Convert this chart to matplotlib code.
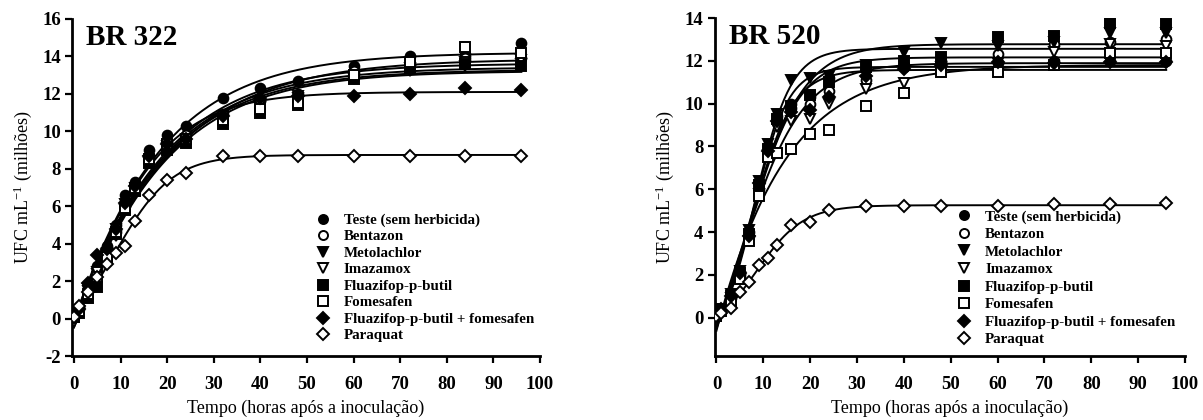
import numpy as np
import matplotlib
matplotlib.use('Agg')
import matplotlib.pyplot as plt

plt.rcParams['font.family'] = ['Liberation Serif', 'DejaVu Serif']
plt.rcParams['mathtext.fontset'] = 'custom'
plt.rcParams['mathtext.rm'] = 'Liberation Serif'
plt.rcParams['mathtext.it'] = 'Liberation Serif:italic'
plt.rcParams['axes.unicode_minus'] = False

# horas após a inoculação
tempo = [0, 1, 3, 5, 7, 9, 11, 13, 16, 20, 24, 32, 40, 48, 60, 72, 84, 96]

labels = ['Teste (sem herbicida)', 'Bentazon', 'Metolachlor', 'Imazamox',
          'Fluazifop-p-butil', 'Fomesafen', 'Fluazifop-p-butil + fomesafen',
          'Paraquat']

# BR 322 (UFC mL-1, milhões)
br322_teste = [0.1, 0.5, 1.8, 2.8, 3.9, 5.0, 6.6, 7.3, 9.0, 9.8, 10.3, 11.8, 12.3, 12.7, 13.5, 14.0, 14.1, 14.7]
br322_bentazon = [0.1, 0.6, 1.6, 2.6, 3.6, 4.6, 6.0, 7.0, 8.6, 9.4, 9.8, 10.9, 11.6, 12.0, 13.2, 13.6, 13.9, 13.9]
br322_metolachlor = [0.0, 0.3, 1.5, 2.4, 3.4, 4.4, 5.8, 6.8, 8.4, 9.2, 9.6, 10.7, 11.3, 11.8, 12.8, 13.2, 13.5, 13.6]
br322_imazamox = [-0.2, 0.4, 1.6, 2.5, 3.5, 4.8, 6.1, 7.0, 8.3, 9.1, 9.5, 10.8, 11.4, 11.9, 12.9, 13.4, 13.7, 13.8]
br322_fluazifop = [0.1, 0.3, 1.1, 1.7, 3.2, 4.5, 5.8, 6.8, 8.3, 9.0, 9.4, 10.4, 11.0, 11.4, 12.8, 13.4, 13.6, 13.5]
br322_fomesafen = [0.1, 0.4, 1.3, 2.2, 3.3, 4.6, 5.9, 7.0, 8.5, 9.3, 9.6, 10.6, 11.2, 11.5, 13.0, 13.7, 14.5, 14.2]
br322_mistura = [0.1, 0.5, 1.9, 3.4, 3.7, 4.8, 6.2, 7.1, 8.7, 9.3, 9.6, 10.8, 11.8, 11.9, 11.9, 12.0, 12.3, 12.2]
br322_paraquat = [0.1, 0.7, 1.4, 2.2, 2.9, 3.5, 3.9, 5.2, 6.6, 7.4, 7.8, 8.7, 8.7, 8.7, 8.7, 8.7, 8.7, 8.7]

# BR 520
br520_teste = [0.1, 0.3, 1.0, 2.0, 4.0, 6.3, 8.0, 9.4, 10.0, 10.3, 11.2, 11.6, 11.8, 11.9, 11.9, 12.0, 12.0, 12.0]
br520_bentazon = [0.1, 0.3, 0.9, 2.1, 3.8, 6.0, 7.8, 9.1, 9.8, 10.0, 10.6, 11.1, 11.7, 12.0, 12.3, 12.8, 12.9, 13.0]
br520_metolachlor = [0.1, 0.4, 1.1, 2.2, 4.1, 6.4, 8.1, 9.5, 11.1, 11.2, 11.3, 11.8, 12.4, 12.85, 12.7, 12.9, 13.3, 13.3]
br520_imazamox = [0.1, 0.3, 0.9, 1.9, 3.6, 5.8, 7.6, 8.9, 9.2, 9.3, 10.0, 10.7, 10.95, 11.7, 11.9, 12.4, 12.8, 12.7]
br520_fluazifop = [0.1, 0.4, 1.0, 2.1, 3.9, 6.2, 7.9, 9.3, 9.9, 10.4, 11.0, 11.7, 12.0, 12.2, 13.1, 13.15, 13.75, 13.7]
br520_fomesafen = [0.1, 0.3, 0.8, 1.8, 3.6, 5.7, 7.5, 7.7, 7.9, 8.6, 8.75, 9.9, 10.5, 11.5, 11.5, 11.8, 12.35, 12.35]
br520_mistura = [0.1, 0.4, 1.0, 2.1, 3.8, 6.3, 7.8, 9.2, 9.6, 9.7, 10.3, 11.3, 11.6, 11.8, 11.95, 11.9, 11.95, 11.95]
br520_paraquat = [0.1, 0.2, 0.45, 1.2, 1.65, 2.45, 2.8, 3.4, 4.35, 4.45, 5.05, 5.2, 5.2, 5.2, 5.2, 5.3, 5.3, 5.35]

br322 = [br322_teste, br322_bentazon, br322_metolachlor, br322_imazamox,
         br322_fluazifop, br322_fomesafen, br322_mistura, br322_paraquat]
br520 = [br520_teste, br520_bentazon, br520_metolachlor, br520_imazamox,
         br520_fluazifop, br520_fomesafen, br520_mistura, br520_paraquat]

markers = ['o', 'o', 'v', 'v', 's', 's', 'D', 'D']
filled = [True, False, True, False, True, False, True, False]


def ajuste_logistico(t, y):
    # y = c + A / (1 + exp(-k (t - tm))), busca em grade para k e tm
    t = np.asarray(t, float)
    y = np.asarray(y, float)
    ks = np.linspace(0.02, 0.7, 137)
    tms = np.linspace(-30, 30, 241)
    K, TM = np.meshgrid(ks, tms, indexing='ij')
    K = K.ravel()[:, None]
    TM = TM.ravel()[:, None]
    s = 1.0 / (1.0 + np.exp(-K * (t[None, :] - TM)))
    n = len(t)
    sx = s.sum(1)
    sxx = (s * s).sum(1)
    sy = y.sum()
    sxy = (s * y[None, :]).sum(1)
    den = n * sxx - sx ** 2
    den[den == 0] = 1e-12
    A = (n * sxy - sx * sy) / den
    c = (sy - A * sx) / n
    sse = ((y[None, :] - c[:, None] - A[:, None] * s) ** 2).sum(1)
    i = np.argmin(sse)
    return c[i], A[i], K[i, 0], TM[i, 0]


def painel(ax, dados, titulo, ylim, yticks):
    tt = np.linspace(0, 96, 300)
    for y in dados:
        c, A, k, tm = ajuste_logistico(tempo, y)
        ax.plot(tt, c + A / (1 + np.exp(-k * (tt - tm))), color='black', lw=1.4, zorder=2)
    handles = []
    for y, m, f, lab in zip(dados, markers, filled, labels):
        h, = ax.plot(tempo, y, linestyle='none', marker=m, ms=7 if m != 'D' else 6.5,
                     mfc='black' if f else 'white', mec='black', mew=1.4,
                     label=lab, zorder=3)
        handles.append(h)
    ax.set_xlim(-0.4, 100)
    ax.set_ylim(*ylim)
    ax.set_xticks(range(0, 101, 10))
    ax.set_yticks(yticks)
    for s in ['top', 'right']:
        ax.spines[s].set_visible(False)
    for s in ['left', 'bottom']:
        ax.spines[s].set_linewidth(2)
    ax.tick_params(direction='out', length=5, width=1.6, labelsize=13.5)
    ax.tick_params(axis='x', pad=9)
    ax.tick_params(axis='y', pad=3)
    for lb in ax.get_xticklabels() + ax.get_yticklabels():
        lb.set_fontweight('bold')
    ax.set_xlabel('Tempo (horas após a inoculação)', fontsize=13, labelpad=5)
    ax.set_ylabel('UFC mL$^{-1}$ (milhões)', fontsize=13, labelpad=6)
    ax.text(0.03, 0.985, titulo, transform=ax.transAxes, fontsize=21,
            fontweight='bold', va='top', ha='left')
    return handles


fig = plt.figure(figsize=(12.03, 4.2), dpi=100)
ax1 = fig.add_axes([0.0599, 0.152, 0.389, 0.803])
ax2 = fig.add_axes([0.594, 0.152, 0.391, 0.805])

h1 = painel(ax1, br322, 'BR 322', (-2, 16), range(-2, 17, 2))
h2 = painel(ax2, br520, 'BR 520', (-1.8, 14), range(0, 15, 2))

for ax, h, x0, y0, sp in [(ax1, h1, 0.256, 0.51, 0.2), (ax2, h2, 0.789, 0.518, 0.27)]:
    leg = fig.legend(handles=h, loc='upper left', bbox_to_anchor=(x0, y0),
                     frameon=False, borderpad=0, handlelength=1.0, handletextpad=0.9,
                     labelspacing=sp, prop={'weight': 'bold', 'size': 10.8})
    for lh in leg.legend_handles:
        lh.set_markersize(6.5)

fig.savefig('out.png', dpi=100)
